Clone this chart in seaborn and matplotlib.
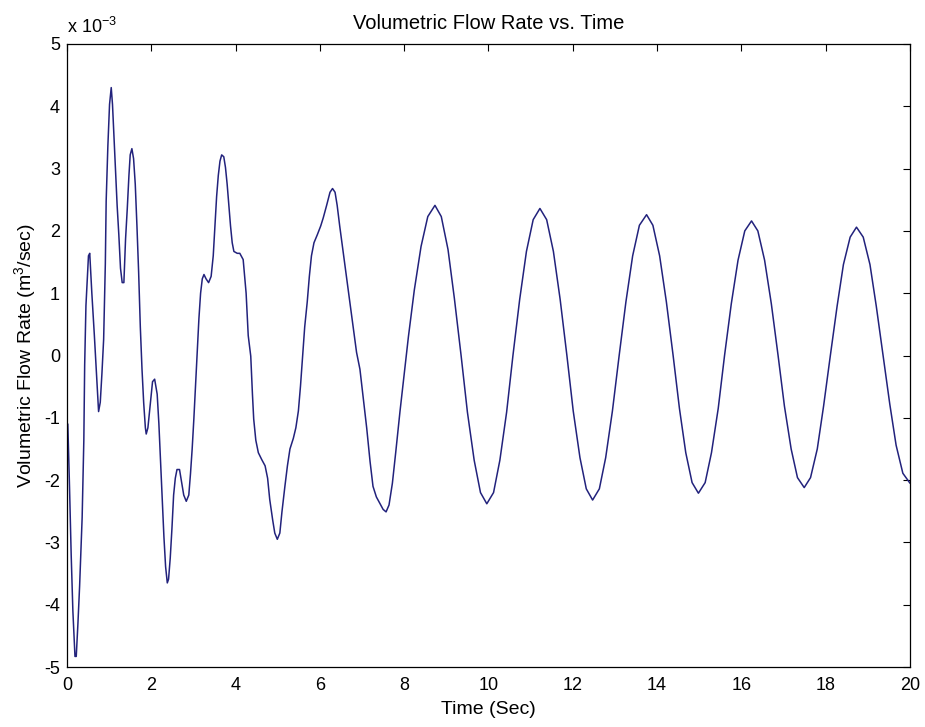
import matplotlib
matplotlib.use("Agg")
import matplotlib.pyplot as plt
import seaborn as sns
import pandas as pd

# Time (s)
time_s = [
    0.00, 0.00, 0.02, 0.06, 0.10, 0.14, 0.19, 0.22, 0.26, 0.30, 0.36, 0.40, 0.42, 0.45,
    0.51, 0.54, 0.59, 0.65, 0.70, 0.75, 0.79, 0.83, 0.87, 0.91, 0.93, 0.97, 1.01,
    1.05, 1.08, 1.13, 1.19, 1.23, 1.27, 1.31, 1.35, 1.39, 1.43, 1.47, 1.50, 1.54,
    1.58, 1.62, 1.66, 1.70, 1.74, 1.78, 1.82, 1.86, 1.88, 1.92, 1.98, 2.03, 2.08,
    2.14, 2.18, 2.22, 2.26, 2.30, 2.34, 2.38, 2.41, 2.45, 2.49, 2.53, 2.57, 2.61,
    2.67, 2.72, 2.77, 2.83, 2.89, 2.93, 2.97, 3.01, 3.05, 3.09, 3.13, 3.17, 3.21,
    3.25, 3.30, 3.36, 3.42, 3.47, 3.51, 3.55, 3.59, 3.63, 3.67, 3.72, 3.76, 3.80,
    3.84, 3.88, 3.92, 3.96, 4.04, 4.10, 4.18, 4.25, 4.30, 4.36, 4.40, 4.43, 4.48,
    4.54, 4.62, 4.70, 4.76, 4.81, 4.88, 4.93, 4.99, 5.05, 5.10, 5.17, 5.23, 5.29,
    5.37, 5.43, 5.49, 5.54, 5.59, 5.64, 5.70, 5.75, 5.80, 5.86, 5.94, 6.02, 6.08,
    6.16, 6.24, 6.30, 6.36, 6.41, 6.47, 6.55, 6.63, 6.71, 6.79, 6.87, 6.95, 7.03,
    7.11, 7.19, 7.26, 7.34, 7.42, 7.50, 7.57, 7.64, 7.72, 7.80, 7.90, 8.00, 8.10,
    8.24, 8.40, 8.56, 8.73, 8.88, 9.04, 9.19, 9.35,
    9.50, 9.66, 9.81, 9.96, 10.12, 10.27, 10.43, 10.58,
    10.74, 10.90, 11.06, 11.22, 11.38, 11.54, 11.70, 11.86,
    12.01, 12.17, 12.32, 12.47, 12.63, 12.78, 12.94, 13.10,
    13.26, 13.42, 13.58, 13.75, 13.90, 14.06, 14.22, 14.38,
    14.53, 14.68, 14.83, 14.98, 15.14, 15.29, 15.45, 15.60,
    15.76, 15.92, 16.08, 16.24, 16.39, 16.55, 16.71, 16.87,
    17.02, 17.18, 17.33, 17.49, 17.64, 17.80, 17.95, 18.11,
    18.27, 18.42, 18.58, 18.73, 18.89, 19.05, 19.20, 19.36,
    19.52, 19.67, 19.83, 20.00,
]

# Volumetric flow rate (x 10^-3 m^3/sec)
flow_e3 = [
    -0.35, -1.10, -1.10, -2.10, -3.20, -4.10, -4.83, -4.83, -4.30, -3.70, -2.60, -1.36, -0.15, 0.80,
    1.60, 1.64, 1.00, 0.32, -0.28, -0.90, -0.75, -0.28, 0.26, 1.47, 2.48, 3.36, 4.03,
    4.30, 4.03, 3.29, 2.41, 1.94, 1.40, 1.17, 1.17, 1.87, 2.35, 2.89, 3.22, 3.32,
    3.16, 2.75, 2.08, 1.34, 0.46, -0.22, -0.76, -1.16, -1.26, -1.16, -0.76, -0.42, -0.38,
    -0.62, -1.09, -1.70, -2.31, -2.91, -3.39, -3.65, -3.59, -3.25, -2.78, -2.24, -1.97, -1.83,
    -1.83, -2.04, -2.24, -2.34, -2.24, -1.90, -1.50, -1.02, -0.49, 0.05, 0.59, 1.00, 1.23,
    1.30, 1.23, 1.17, 1.27, 1.60, 2.08, 2.55, 2.89, 3.12, 3.22, 3.19, 3.02, 2.75,
    2.41, 2.08, 1.81, 1.67, 1.64, 1.64, 1.54, 1.00, 0.32, -0.01, -0.62, -1.02, -1.36,
    -1.56, -1.67, -1.77, -1.97, -2.31, -2.64, -2.85, -2.95, -2.85, -2.51, -2.10, -1.77, -1.50,
    -1.33, -1.16, -0.89, -0.49, -0.01, 0.46, 0.86, 1.27, 1.60, 1.81, 1.94, 2.08, 2.21,
    2.41, 2.62, 2.68, 2.62, 2.41, 2.08, 1.67, 1.27, 0.86, 0.46, 0.05, -0.22, -0.69,
    -1.16, -1.70, -2.10, -2.27, -2.37, -2.47, -2.51, -2.40, -2.05, -1.55, -0.90, -0.30, 0.30,
    1.05, 1.75, 2.23, 2.41, 2.23, 1.70, 0.92, 0.00,
    -0.91, -1.68, -2.20, -2.38, -2.20, -1.68, -0.91, 0.00,
    0.90, 1.67, 2.18, 2.36, 2.18, 1.67, 0.90, 0.00,
    -0.89, -1.64, -2.14, -2.32, -2.14, -1.64, -0.89, 0.00,
    0.86, 1.60, 2.09, 2.26, 2.09, 1.60, 0.86, 0.00,
    -0.85, -1.56, -2.04, -2.21, -2.04, -1.56, -0.85, 0.00,
    0.83, 1.53, 2.00, 2.16, 2.00, 1.53, 0.83, 0.00,
    -0.81, -1.50, -1.96, -2.12, -1.96, -1.50, -0.81, 0.00,
    0.79, 1.46, 1.90, 2.06, 1.90, 1.46, 0.79, 0.00,
    -0.78, -1.44, -1.89, -2.05,
]

x_ticks = list(range(0, 21, 2))
y_ticks = list(range(-5, 6, 1))

sns.set_style("white")
plt.rcParams['font.family'] = ['Liberation Sans', 'DejaVu Sans']
plt.rcParams['mathtext.fontset'] = 'custom'
plt.rcParams['mathtext.rm'] = 'Liberation Sans'
plt.rcParams['text.color'] = 'black'
plt.rcParams['axes.labelcolor'] = 'black'
plt.rcParams['xtick.color'] = 'black'
plt.rcParams['ytick.color'] = 'black'

df = pd.DataFrame({"t": time_s, "q": flow_e3})

fig = plt.figure(figsize=(9.25, 7.27), dpi=100)
ax = fig.add_axes([0.0724, 0.0825, 0.9114, 0.857])

sns.lineplot(data=df, x="t", y="q", ax=ax, sort=False, estimator=None,
             color="#22227c", linewidth=1.1)

ax.set_xlim(0, 20)
ax.set_ylim(-5, 5)
ax.set_xticks(x_ticks)
ax.set_yticks(y_ticks)
ax.set_xticklabels([str(v) for v in x_ticks])
ax.set_yticklabels([str(v) for v in y_ticks])
ax.tick_params(direction='in', length=5, width=0.8, top=True, right=True,
               labelsize=13, colors='black', labelcolor='black')
ax.tick_params(axis='x', pad=7)
ax.tick_params(axis='y', pad=5)
for s in ax.spines.values():
    s.set_visible(True)
    s.set_color('black')
    s.set_linewidth(0.9)

ax.set_xlabel("Time (Sec)", fontsize=14, labelpad=5, color='black')
ax.set_ylabel("Volumetric Flow Rate (m$^3$/sec)", fontsize=14, labelpad=4,
              color='black')
ax.set_title("Volumetric Flow Rate vs. Time", fontsize=14.5, pad=11,
             color='black')
ax.text(0.0, 1.012, "x 10$^{-3}$", transform=ax.transAxes, fontsize=13,
        ha='left', va='bottom', color='black')

fig.savefig("out.png", dpi=100, facecolor='white')
